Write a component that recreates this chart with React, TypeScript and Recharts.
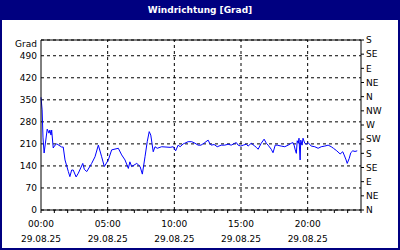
import React from 'react';
import { LineChart, Line, XAxis, YAxis, CartesianGrid, ReferenceLine } from 'recharts';

// minutes since 00:00 on 29.08.25
const minutes = [
  0, 5, 9, 14, 28, 36, 40, 45, 48, 55, 63, 71, 93, 100, 108, 123, 130, 138, 145, 158, 168,
  188, 195, 206, 228, 243, 258, 273, 285, 303, 318, 348, 363, 378, 393, 400, 408, 431, 446, 456, 468,
  478, 487, 494, 505, 513, 523, 543, 581, 595, 606, 617, 626, 640, 647, 662, 678, 693, 707, 720, 737,
  752, 759, 766, 779, 793, 811, 827, 842, 856, 872, 879, 887, 899, 910, 924, 932, 946, 962, 969, 977,
  991, 1004, 1014, 1022, 1036, 1044, 1054, 1063, 1081, 1097, 1112, 1126, 1134, 1139, 1144, 1149, 1153, 1158, 1161, 1166,
  1169, 1175, 1179, 1187, 1194, 1202, 1216, 1232, 1247, 1261, 1277, 1292, 1306, 1316, 1331, 1346, 1358, 1364, 1373, 1378,
  1387, 1394, 1403, 1413, 1423,
];
const grad = [
  358, 318, 229, 181, 257, 244, 254, 238, 254, 197, 206, 210, 200, 200, 159, 122, 106, 127, 127, 105, 117,
  148, 129, 122, 148, 169, 206, 169, 138, 159, 191, 196, 175, 159, 132, 153, 138, 148, 138, 114, 169,
  217, 249, 238, 185, 201, 196, 201, 199, 201, 188, 206, 201, 210, 212, 217, 217, 212, 206, 206, 214,
  222, 212, 206, 208, 201, 206, 206, 209, 206, 212, 214, 206, 203, 206, 209, 203, 212, 203, 199, 193,
  212, 225, 212, 206, 193, 182, 206, 206, 203, 201, 206, 212, 214, 206, 191, 180, 220, 212, 228, 159,
  222, 206, 228, 212, 209, 214, 203, 201, 196, 201, 203, 206, 201, 196, 188, 178, 185, 175, 159, 148,
  164, 182, 188, 186, 188,
];

const leftTicks = [0, 70, 140, 210, 280, 350, 420, 490];
const rightTicks = [0, 45, 90, 135, 180, 225, 270, 315, 360, 405, 450, 495, 540];
const compass = ['N', 'NE', 'E', 'SE', 'S', 'SW', 'W', 'NW', 'N', 'NE', 'E', 'SE', 'S'];
const hourTicks = Array.from({ length: 25 }, (_, i) => i * 60);
const gridX = [300, 600, 900, 1200];
const dateLabel = '29.08.25';

const data = minutes.map((m, i) => ({ t: m, v: grad[i] }));

const font = '"DejaVu Sans", sans-serif';

const TimeTick = (props: any) => {
  const { x, y, payload } = props;
  const val = payload.value as number;
  if (val % 300 !== 0 || val >= 1440) return null;
  const hh = String(val / 60).padStart(2, '0');
  return (
    <g>
      <text x={x} y={y + 12} textAnchor="middle" fontSize={9} fontFamily={font} fill="#000">
        {hh}:00
      </text>
      <text x={x} y={y + 27} textAnchor="middle" fontSize={9} fontFamily={font} fill="#000">
        {dateLabel}
      </text>
    </g>
  );
};

export default function App() {
  return (
    <div style={{ position: 'absolute', left: 0, top: 0, width: 400, height: 250, background: '#000080' }}>
      <div style={{ position: 'absolute', left: 2, top: 20, width: 396, height: 228, background: '#fff' }} />
      <div
        style={{
          position: 'absolute', left: 0, top: 0, width: 400, height: 20, lineHeight: '20px',
          textAlign: 'center', color: '#fff', fontWeight: 'bold', fontSize: 9, fontFamily: font,
        }}
      >
        Windrichtung [Grad]
      </div>
      <div
        style={{
          position: 'absolute', right: 363, top: 38, fontSize: 9, fontFamily: font, color: '#000', lineHeight: '12px',
        }}
      >
        Grad
      </div>
      <div style={{ position: 'absolute', left: 0, top: 0 }}>
        <LineChart width={400} height={250} data={data} margin={{ top: 40, right: 0, bottom: 0, left: 0 }}>
          <CartesianGrid yAxisId="l" vertical={false} stroke="#000" strokeDasharray="3 3" />
          {gridX.map((g) => (
            <ReferenceLine key={g} x={g} yAxisId="l" stroke="#000" strokeDasharray="3 3" />
          ))}
          <ReferenceLine y={540} yAxisId="l" stroke="#000" />
          <XAxis
            dataKey="t"
            type="number"
            domain={[0, 1440]}
            ticks={hourTicks}
            interval={0}
            height={40}
            tickSize={3}
            tickMargin={2}
            stroke="#000"
            tick={<TimeTick />}
          />
          <YAxis
            yAxisId="l"
            type="number"
            domain={[0, 540]}
            ticks={leftTicks}
            interval={0}
            width={41}
            tickLine={false}
            tickSize={0}
            tickMargin={4}
            stroke="#000"
            tick={{ fontSize: 9, fontFamily: font, fill: '#000' }}
          />
          <YAxis
            yAxisId="r"
            orientation="right"
            type="number"
            domain={[0, 540]}
            ticks={rightTicks}
            interval={0}
            width={39}
            tickSize={3}
            tickMargin={2}
            stroke="#000"
            tickFormatter={(v: number) => compass[rightTicks.indexOf(v)]}
            tick={{ fontSize: 9, fontFamily: font, fill: '#000', textAnchor: 'start' }}
          />
          <Line
            yAxisId="r"
            dataKey="v"
            type="linear"
            stroke="none"
            dot={false}
            activeDot={false}
            isAnimationActive={false}
          />
          <Line
            yAxisId="l"
            dataKey="v"
            type="linear"
            stroke="#0000ff"
            strokeWidth={1}
            dot={false}
            isAnimationActive={false}
          />
        </LineChart>
      </div>
    </div>
  );
}
